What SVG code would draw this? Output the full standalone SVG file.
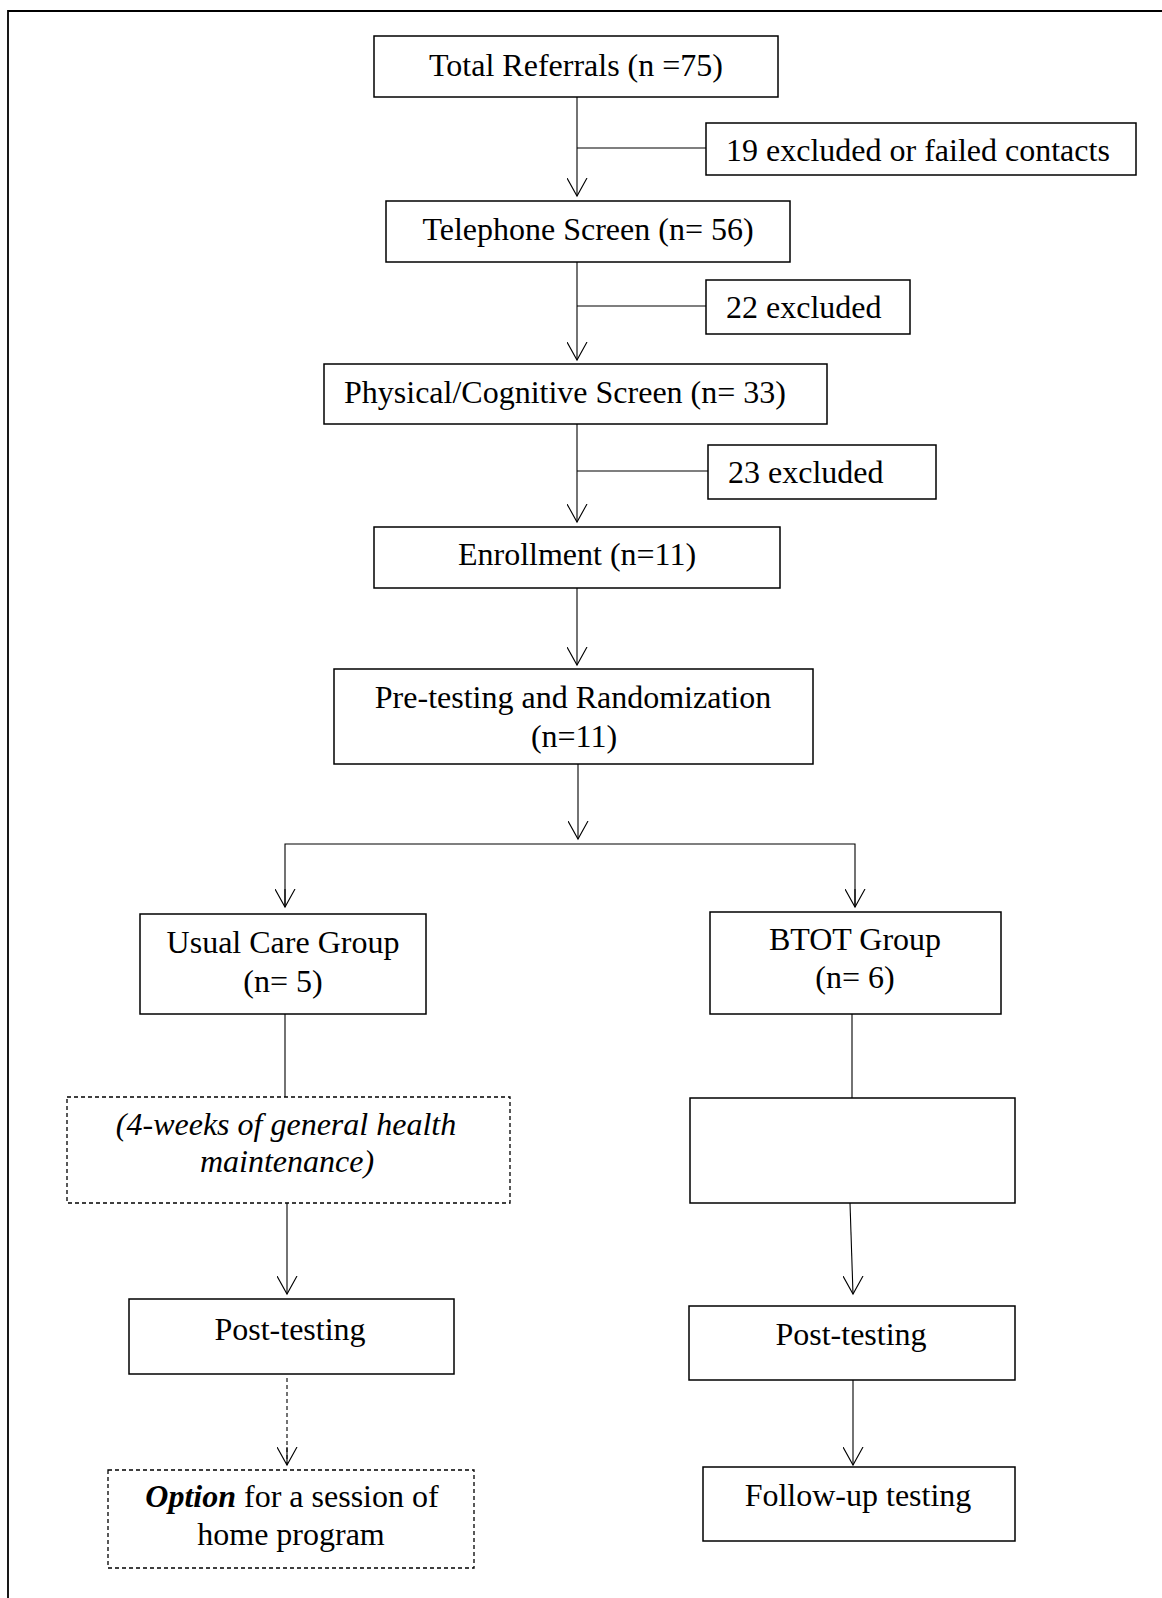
<svg xmlns="http://www.w3.org/2000/svg" width="1162" height="1598" viewBox="0 0 1162 1598">
<style>
.box{fill:#fff;stroke:#000;stroke-width:1.5}
.dbox{fill:#fff;stroke:#000;stroke-width:1.3;stroke-dasharray:4,3}
.ln{fill:none;stroke:#000;stroke-width:1.1}
.dln{fill:none;stroke:#000;stroke-width:1.1;stroke-dasharray:4,3}
text{font-family:"Liberation Serif","Times New Roman",serif;font-size:32px;fill:#000}
.c{text-anchor:middle}
.i{font-style:italic}
</style>
<defs>
<marker id="ah" markerWidth="24" markerHeight="24" refX="10" refY="18" orient="0" markerUnits="userSpaceOnUse" viewBox="0 0 24 24">
<path d="M0,0 L10,18 L20,0" fill="none" stroke="#000" stroke-width="1.1"/>
</marker>
</defs>
<rect width="1162" height="1598" fill="#fff"/>
<path d="M8,1598 V11 H1162" fill="none" stroke="#000" stroke-width="1.8"/>

<g id="connectors">
<line class="ln" x1="577" y1="97" x2="577" y2="196" marker-end="url(#ah)"/>
<line class="ln" x1="577" y1="148" x2="706" y2="148"/>
<line class="ln" x1="577" y1="262" x2="577" y2="360" marker-end="url(#ah)"/>
<line class="ln" x1="577" y1="306" x2="706" y2="306"/>
<line class="ln" x1="577" y1="424" x2="577" y2="522" marker-end="url(#ah)"/>
<line class="ln" x1="577" y1="471" x2="708" y2="471"/>
<line class="ln" x1="577" y1="588" x2="577" y2="665" marker-end="url(#ah)"/>
<line class="ln" x1="578" y1="764" x2="578" y2="839" marker-end="url(#ah)"/>
<polyline class="ln" points="285,907 285,844 855,844 855,907"/>
<line class="ln" x1="285" y1="889" x2="285" y2="907" marker-end="url(#ah)"/>
<line class="ln" x1="855" y1="889" x2="855" y2="907" marker-end="url(#ah)"/>
<line class="ln" x1="285" y1="1014" x2="285" y2="1097"/>
<line class="ln" x1="852" y1="1014" x2="852" y2="1098"/>
<line class="ln" x1="287" y1="1203" x2="287" y2="1294" marker-end="url(#ah)"/>
<line class="ln" x1="850" y1="1203" x2="853" y2="1294" marker-end="url(#ah)"/>
<line class="dln" x1="287" y1="1378" x2="287" y2="1465"/>
<line class="ln" x1="287" y1="1447" x2="287" y2="1465" marker-end="url(#ah)"/>
<line class="ln" x1="853" y1="1380" x2="853" y2="1465" marker-end="url(#ah)"/>
</g>

<g id="total-referrals">
<rect class="box" x="374" y="36" width="404" height="61"/>
<text class="c" x="576" y="76">Total Referrals (n =75)</text>
</g>
<g id="excluded-19">
<rect class="box" x="706" y="123" width="430" height="52"/>
<text x="726" y="161">19 excluded or failed contacts</text>
</g>
<g id="telephone-screen">
<rect class="box" x="386" y="201" width="404" height="61"/>
<text class="c" x="588" y="240">Telephone Screen (n= 56)</text>
</g>
<g id="excluded-22">
<rect class="box" x="706" y="280" width="204" height="54"/>
<text x="726" y="318">22 excluded</text>
</g>
<g id="physical-cognitive-screen">
<rect class="box" x="324" y="364" width="503" height="60"/>
<text x="344" y="403">Physical/Cognitive Screen (n= 33)</text>
</g>
<g id="excluded-23">
<rect class="box" x="708" y="445" width="228" height="54"/>
<text x="728" y="483">23 excluded</text>
</g>
<g id="enrollment">
<rect class="box" x="374" y="527" width="406" height="61"/>
<text class="c" x="577" y="565">Enrollment (n=11)</text>
</g>
<g id="pretesting-randomization">
<rect class="box" x="334" y="669" width="479" height="95"/>
<text class="c" x="573" y="708">Pre-testing and Randomization</text>
<text class="c" x="574" y="747">(n=11)</text>
</g>
<g id="usual-care-group">
<rect class="box" x="140" y="914" width="286" height="100"/>
<text class="c" x="283" y="953">Usual Care Group</text>
<text class="c" x="283" y="992">(n= 5)</text>
</g>
<g id="btot-group">
<rect class="box" x="710" y="912" width="291" height="102"/>
<text class="c" x="855" y="950">BTOT Group</text>
<text class="c" x="855" y="988">(n= 6)</text>
</g>
<g id="general-health-maintenance">
<rect class="dbox" x="67" y="1097" width="443" height="106"/>
<text class="c i" x="286" y="1135">(4-weeks of general health</text>
<text class="c i" x="287" y="1172">maintenance)</text>
</g>
<g id="btot-intervention">
<rect class="box" x="690" y="1098" width="325" height="105"/>
</g>
<g id="post-testing-usual">
<rect class="box" x="129" y="1299" width="325" height="75"/>
<text class="c" x="290" y="1340">Post-testing</text>
</g>
<g id="post-testing-btot">
<rect class="box" x="689" y="1306" width="326" height="74"/>
<text class="c" x="851" y="1345">Post-testing</text>
</g>
<g id="home-program-option">
<rect class="dbox" x="108" y="1470" width="366" height="98"/>
<text class="c" x="292" y="1507"><tspan font-weight="bold" font-style="italic">Option</tspan> for a session of</text>
<text class="c" x="291" y="1545">home program</text>
</g>
<g id="follow-up-testing">
<rect class="box" x="703" y="1467" width="312" height="74"/>
<text class="c" x="858" y="1506">Follow-up testing</text>
</g>
</svg>
